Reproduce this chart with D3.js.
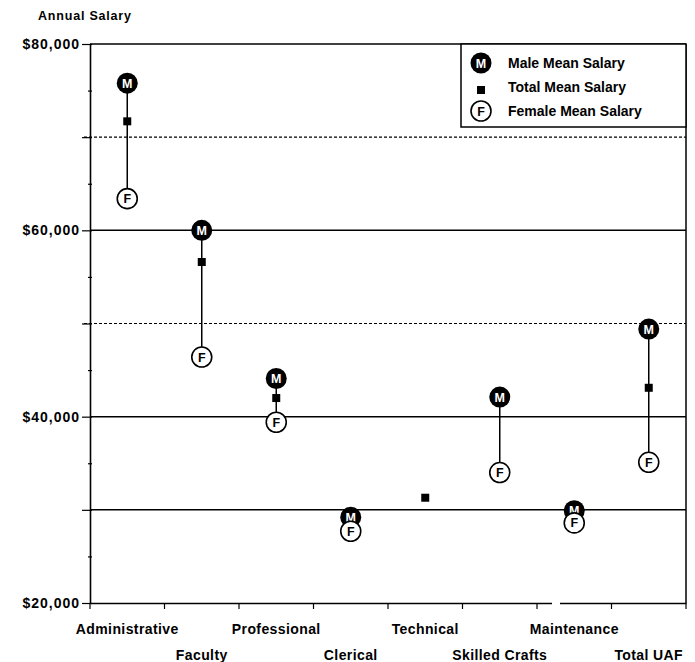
<!DOCTYPE html>
<html>
<head>
<meta charset="utf-8">
<script src="https://cdn.jsdelivr.net/npm/d3@7"></script>
<style>
  body { margin: 0; background: #fff; }
  text { font-family: "Liberation Sans", Arial, sans-serif; fill: #000; }
</style>
</head>
<body>
<div id="chart"></div>
<script>
const categories = ['Administrative', 'Faculty', 'Professional', 'Clerical', 'Technical', 'Skilled Crafts', 'Maintenance', 'Total UAF'];
const maleMean = [75800, 60000, 44100, 29200, null, 42100, 29900, 49400];
const totalMean = [71700, 56600, 42000, 28300, 31300, 41600, 29600, 43100];
const femaleMean = [63400, 46400, 39400, 27700, null, 34000, 28600, 35100];
const yTickValues = [20000, 40000, 60000, 80000];
const solidGrid = [30000, 40000, 60000];
const dottedGrid = [50000, 70000];
const legendItems = ['Male Mean Salary', 'Total Mean Salary', 'Female Mean Salary'];

const width = 695, height = 662;
const margin = { left: 90, top: 44, right: 9, bottom: 59 };
const plotRight = width - margin.right;
const plotBottom = height - margin.bottom;

const svg = d3.select('#chart').append('svg')
    .attr('width', width)
    .attr('height', height);

const x = d3.scaleBand().domain(categories).range([margin.left, plotRight]).padding(0);
const y = d3.scaleLinear().domain([20000, 80000]).range([plotBottom, margin.top]);
const cx = d => x(d) + x.bandwidth() / 2;

// gridlines
svg.append('g').selectAll('line').data(solidGrid).enter().append('line')
    .attr('x1', margin.left).attr('x2', plotRight)
    .attr('y1', d => y(d)).attr('y2', d => y(d))
    .attr('stroke', '#000').attr('stroke-width', 1.5);
svg.append('g').selectAll('line').data(dottedGrid).enter().append('line')
    .attr('x1', margin.left - 6).attr('x2', plotRight)
    .attr('y1', d => y(d)).attr('y2', d => y(d))
    .attr('stroke', '#000').attr('stroke-width', 1.1)
    .attr('stroke-dasharray', '3,2');

// frame: top and right
svg.append('line').attr('x1', margin.left).attr('x2', plotRight)
    .attr('y1', margin.top).attr('y2', margin.top)
    .attr('stroke', '#000').attr('stroke-width', 1.5);
svg.append('line').attr('x1', plotRight).attr('x2', plotRight)
    .attr('y1', margin.top).attr('y2', plotBottom)
    .attr('stroke', '#000').attr('stroke-width', 1.5);

// y axis
const yAxis = d3.axisLeft(y)
    .tickValues(d3.range(20000, 80001, 5000))
    .tickSize(0)
    .tickFormat('');
const yg = svg.append('g').attr('transform', `translate(${margin.left},0)`).call(yAxis);
yg.select('.domain').attr('stroke', '#000').attr('stroke-width', 1.6);
yg.selectAll('.tick line')
    .attr('x1', d => d % 10000 === 0 ? -8 : -2)
    .attr('x2', 2)
    .attr('stroke', '#000').attr('stroke-width', 1.2);
svg.append('g').selectAll('text').data(yTickValues).enter().append('text')
    .attr('x', margin.left - 10)
    .attr('y', d => y(d) + 5)
    .attr('text-anchor', 'end')
    .style('font-size', '14px').style('font-weight', 'bold').style('letter-spacing', '1px')
    .text(d => '$' + d3.format(',')(d));

// x axis
const xg = svg.append('g').attr('transform', `translate(0,${plotBottom})`)
    .call(d3.axisBottom(x).tickSize(0).tickFormat(''));
xg.select('.domain').attr('stroke', '#000').attr('stroke-width', 1.6);
xg.selectAll('.tick').remove();
const boundaries = categories.map(c => x(c)).concat([plotRight]);
svg.append('g').selectAll('line').data(boundaries).enter().append('line')
    .attr('x1', d => d).attr('x2', d => d)
    .attr('y1', plotBottom).attr('y2', plotBottom + 6)
    .attr('stroke', '#000').attr('stroke-width', 1.2);
// small break in the baseline
svg.append('rect').attr('x', 552).attr('y', plotBottom - 2).attr('width', 8).attr('height', 4).attr('fill', '#fff');

svg.append('g').selectAll('text').data(categories).enter().append('text')
    .attr('x', d => cx(d))
    .attr('y', (d, i) => i % 2 === 0 ? 634 : 660)
    .attr('text-anchor', 'middle')
    .style('font-size', '14px').style('font-weight', 'bold').style('letter-spacing', '0.4px')
    .text(d => d);

// title
svg.append('text').attr('x', 38).attr('y', 20)
    .style('font-size', '12.5px').style('font-weight', 'bold').style('letter-spacing', '0.8px')
    .text('Annual Salary');

// connecting lines
const pairs = categories.map((c, i) => ({ c, m: maleMean[i], f: femaleMean[i] }))
    .filter(d => d.m !== null && d.f !== null);
svg.append('g').selectAll('line').data(pairs).enter().append('line')
    .attr('x1', d => cx(d.c)).attr('x2', d => cx(d.c))
    .attr('y1', d => y(d.m)).attr('y2', d => y(d.f))
    .attr('stroke', '#000').attr('stroke-width', 1.5);

// total squares
const sq = 8;
svg.append('g').selectAll('rect').data(categories).enter().append('rect')
    .attr('x', d => cx(d) - sq / 2)
    .attr('y', (d, i) => y(totalMean[i]) - sq / 2)
    .attr('width', sq).attr('height', sq)
    .attr('fill', '#000');

function maleMarker(g, px, py) {
    g.append('circle').attr('cx', px).attr('cy', py).attr('r', 10.5).attr('fill', '#000');
    g.append('text').attr('x', px).attr('y', py + 4.5).attr('text-anchor', 'middle')
        .style('font-size', '12.5px').style('font-weight', 'bold').style('fill', '#fff').text('M');
}
function femaleMarker(g, px, py) {
    g.append('circle').attr('cx', px).attr('cy', py).attr('r', 10).attr('fill', '#fff')
        .attr('stroke', '#000').attr('stroke-width', 1.6);
    g.append('text').attr('x', px).attr('y', py + 4.5).attr('text-anchor', 'middle')
        .style('font-size', '12.5px').style('font-weight', 'bold').text('F');
}

const markers = svg.append('g');
categories.forEach((c, i) => {
    if (maleMean[i] !== null) maleMarker(markers, cx(c), y(maleMean[i]));
});
categories.forEach((c, i) => {
    if (femaleMean[i] !== null) femaleMarker(markers, cx(c), y(femaleMean[i]));
});

// legend
const legend = svg.append('g');
legend.append('rect').attr('x', 461).attr('y', margin.top).attr('width', plotRight - 461).attr('height', 83)
    .attr('fill', '#fff').attr('stroke', '#000').attr('stroke-width', 1.5);
maleMarker(legend, 481, 63);
legend.append('rect').attr('x', 477).attr('y', 86).attr('width', sq).attr('height', sq).attr('fill', '#000');
femaleMarker(legend, 481, 111);
legend.selectAll('.lbl').data(legendItems).enter().append('text')
    .attr('class', 'lbl')
    .attr('x', 508)
    .attr('y', (d, i) => 68 + i * 24)
    .style('font-size', '14px').style('font-weight', 'bold')
    .text(d => d);
</script>
</body>
</html>
